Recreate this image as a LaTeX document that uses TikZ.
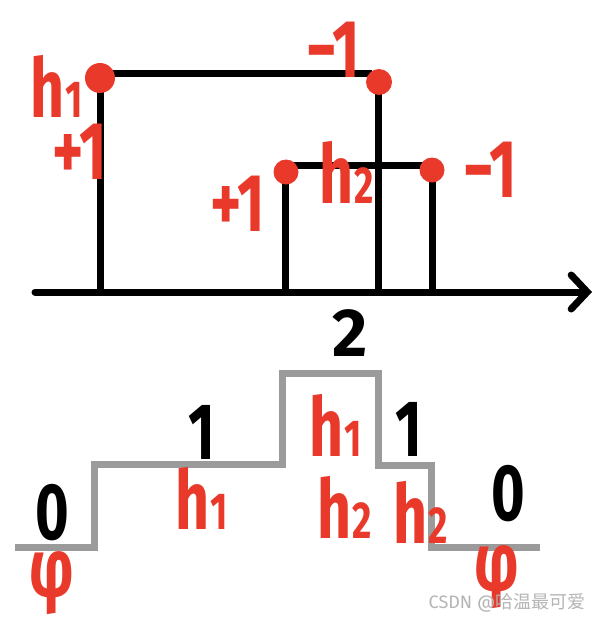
\documentclass[tikz,border=0pt]{standalone}
\usepackage{fontspec}
\usepackage{graphicx}
\setmainfont{Fira Sans}
\newfontfamily\cjk{Noto Sans CJK SC}
\usetikzlibrary{arrows.meta}
\definecolor{pen}{HTML}{E8392B}
\definecolor{stepgray}{HTML}{9B9B9B}
\definecolor{wm}{HTML}{B4B4B4}
\newcommand\hsub[1]{h\kern1pt{\fontsize{52}{52}\selectfont #1}}
\newcommand\sq[1]{\scalebox{0.72}[1]{#1}}
\begin{document}
\begin{tikzpicture}[x=1pt,y=-1pt,
  ink/.style={line width=7pt, black},
  dot/.style={circle, fill=pen, inner sep=0pt, minimum size=#1},
  rlab/.style={text=pen, font=\fontsize{82}{82}\selectfont\bfseries, inner sep=0pt},
  blab/.style={text=black, font=\fontsize{80}{80}\selectfont\bfseries, inner sep=0pt},
  grayline/.style={line width=7pt, stepgray, line join=miter}]
\useasboundingbox (0,0) rectangle (607,621);
% axis
\coordinate (a0) at (35,292);
\coordinate (a1) at (592,292);
\draw[ink, line cap=round, -{Straight Barb[length=16pt,width=34pt,line cap=round]}] (a0) -- (a1);
% stems
\coordinate (b1) at (100,292);
\coordinate (b2) at (378,292);
\coordinate (b3) at (285,292);
\coordinate (b4) at (432,292);
\coordinate (t1) at (100,73);
\coordinate (t2) at (372,73);
\coordinate (u1) at (285,165);
\coordinate (u2) at (432,165);
\draw[ink] (b1) -- (100,78);
\draw[ink] (b2) -- (378,82);
\draw[ink] (b3) -- (285,172);
\draw[ink] (b4) -- (432,170);
\draw[ink] (t1) -- (t2);
\draw[ink] (u1) -- (u2);
% dots
\node[dot=30pt] (d1) at (100,78) {};
\node[dot=26pt] (d2) at (379,82) {};
\node[dot=25pt] (d3) at (286,172) {};
\node[dot=25pt] (d4) at (432,170) {};
% top labels
\node[rlab] (lh1) at (57,86) {\sq{\hsub{1}}};
\node[rlab] (lp1) at (80,152) {\sq{+1}};
\node[rlab] (lm1) at (333,50) {\sq{−1}};
\node[rlab] (lp2) at (238,204) {\sq{+1}};
\node[rlab] (lh2) at (347,172) {\sq{\hsub{2}}};
\node[rlab] (lm2) at (490,170) {\sq{−1}};
% step curve
\draw[grayline] (15,547) -- (94,547) -- (94,464) -- (282,464) -- (282,373) -- (378,373) -- (378,465) -- (431,465) -- (431,547) -- (540,547);
% bottom labels
\node[blab, font=\fontsize{68}{68}\selectfont\bfseries] (n2) at (350,333) {2};
\node[blab] (n1a) at (202,432) {\sq{1}};
\node[blab] (n1b) at (409,429) {\sq{1}};
\node[blab] (n0a) at (52,513) {\sq{0}};
\node[blab] (n0b) at (508,494) {\sq{0}};
\node[rlab] (bh1a) at (202,498) {\sq{\hsub{1}}};
\node[rlab] (bh1b) at (336,425) {\sq{\hsub{1}}};
\node[rlab] (bh2a) at (345,507) {\sq{\hsub{2}}};
\node[rlab] (bh2b) at (421,512) {\sq{\hsub{2}}};
\node[rlab] (pha) at (52,583) {\sq{φ}};
\node[rlab] (phb) at (497,577) {\sq{φ}};
% watermark
\node[text=wm, font=\fontsize{18}{18}\selectfont, inner sep=0pt] (wmk) at (507,603) {CSDN @{\cjk 哈温最可爱}};
\end{tikzpicture}
\end{document}
